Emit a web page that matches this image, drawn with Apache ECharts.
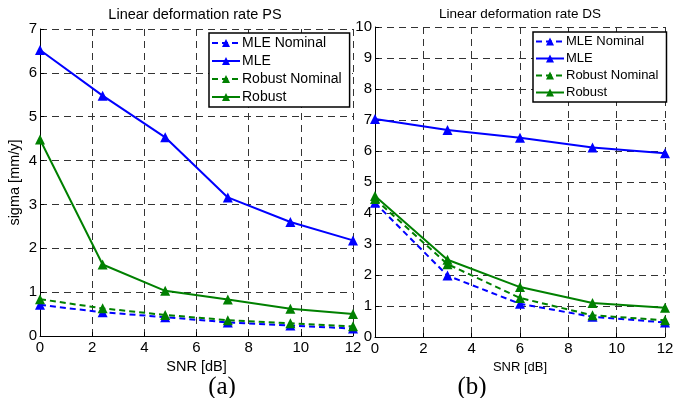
<!DOCTYPE html>
<html>
<head>
<meta charset="utf-8">
<script src="https://cdn.jsdelivr.net/npm/echarts@6/dist/echarts.min.js"></script>
<style>
  html, body { margin: 0; padding: 0; background: #fff; }
  #chart { width: 684px; height: 398px; }
</style>
</head>
<body>
<div id="chart"></div>
<script>
// panel (a): PS
const snrPS = [0, 2.4, 4.8, 7.2, 9.6, 12];
const psMleNominal = [0.71, 0.54, 0.43, 0.31, 0.24, 0.17];
const psMle = [6.52, 5.48, 4.53, 3.16, 2.6, 2.18];
const psRobustNominal = [0.84, 0.63, 0.48, 0.36, 0.29, 0.22];
const psRobust = [4.48, 1.63, 1.03, 0.83, 0.62, 0.5];

// panel (b): DS
const snrDS = [0, 3, 6, 9, 12];
const dsMleNominal = [4.33, 1.98, 1.07, 0.65, 0.47];
const dsMle = [7.03, 6.68, 6.43, 6.11, 5.93];
const dsRobustNominal = [4.45, 2.35, 1.26, 0.7, 0.54];
const dsRobust = [4.55, 2.49, 1.61, 1.1, 0.94];

const names = ['MLE Nominal', 'MLE', 'Robust Nominal', 'Robust'];
const BLUE = '#0000ff', GREEN = '#008000';
const FONT = 'Liberation Sans, Arial, sans-serif';
const SERIF = 'Liberation Serif, DejaVu Serif, serif';

const pairs = (xs, ys) => xs.map((x, i) => [x, ys[i]]);

const mkSeries = (name, xs, ys, color, dashed, idx) => ({
  name: name,
  type: 'line',
  xAxisIndex: idx,
  yAxisIndex: idx,
  data: pairs(xs, ys),
  symbol: 'triangle',
  symbolSize: 10,
  itemStyle: { color: color },
  lineStyle: { color: color, width: 2, type: dashed ? [6, 4] : 'solid' },
  emphasis: { disabled: true },
  animation: false
});

const gridLine = { show: true, lineStyle: { color: '#333', width: 1, type: [7, 5] } };

const mkX = (idx, fs) => ({
  type: 'value', gridIndex: idx, min: 0, max: 12, interval: 2,
  name: 'SNR [dB]', nameLocation: 'middle', nameGap: 22,
  nameTextStyle: { color: '#000', fontSize: fs, fontFamily: FONT },
  axisLine: { show: true, lineStyle: { color: '#000', width: 1 } },
  axisTick: { show: true, inside: true, length: 4, lineStyle: { color: '#000' } },
  axisLabel: { color: '#000', fontSize: 15, fontFamily: FONT, margin: 4 },
  splitLine: gridLine
});

const mkY = (idx, max, name) => ({
  type: 'value', gridIndex: idx, min: 0, max: max, interval: 1,
  name: name, nameLocation: 'middle', nameGap: 18, nameRotate: 90,
  nameTextStyle: { color: '#000', fontSize: 14.5, fontFamily: FONT },
  axisLine: { show: true, lineStyle: { color: '#000', width: 1 } },
  axisTick: { show: true, inside: true, length: 4, lineStyle: { color: '#000' } },
  axisLabel: { color: '#000', fontSize: 15, fontFamily: FONT, margin: 3 },
  splitLine: gridLine
});

const mkLegend = (left, top, gap, fs) => ({
  orient: 'vertical', left: left, top: top,
  data: names,
  itemWidth: 28, itemHeight: 10, itemGap: gap,
  backgroundColor: '#fff', borderColor: '#000', borderWidth: 1.5,
  padding: [3, 8, 3, 2],
  selectedMode: false,
  textStyle: { color: '#000', fontSize: fs, fontFamily: FONT, padding: [0, 0, 0, -3] }
});

const mkTitle = (text, x, y, fs, fam) => ({
  text: text, left: x, top: y, textAlign: 'center', padding: 0,
  textStyle: { fontSize: fs, fontWeight: 'normal', color: '#000', fontFamily: fam }
});

const chart = echarts.init(document.getElementById('chart'), null, { renderer: 'canvas' });
chart.setOption({
  backgroundColor: '#fff',
  animation: false,
  title: [
    mkTitle('Linear deformation rate PS', 195, 7, 14.5, FONT),
    mkTitle('Linear deformation rate DS', 520, 7, 13.5, FONT),
    mkTitle('(a)', 222, 375, 25, SERIF),
    mkTitle('(b)', 472, 375, 25, SERIF)
  ],
  grid: [
    { left: 40, right: 331, top: 29, bottom: 62 },
    { left: 375, right: 19, top: 27, bottom: 61 }
  ],
  xAxis: [mkX(0, 14.5), mkX(1, 13)],
  yAxis: [mkY(0, 7, 'sigma [mm/y]'), mkY(1, 10, '')],
  legend: [mkLegend(209, 33, 4, 14), mkLegend(533, 32, 4, 13)],
  series: [
    mkSeries(names[0], snrPS, psMleNominal, BLUE, true, 0),
    mkSeries(names[1], snrPS, psMle, BLUE, false, 0),
    mkSeries(names[2], snrPS, psRobustNominal, GREEN, true, 0),
    mkSeries(names[3], snrPS, psRobust, GREEN, false, 0),
    mkSeries(names[0], snrDS, dsMleNominal, BLUE, true, 1),
    mkSeries(names[1], snrDS, dsMle, BLUE, false, 1),
    mkSeries(names[2], snrDS, dsRobustNominal, GREEN, true, 1),
    mkSeries(names[3], snrDS, dsRobust, GREEN, false, 1)
  ]
});
</script>
</body>
</html>
